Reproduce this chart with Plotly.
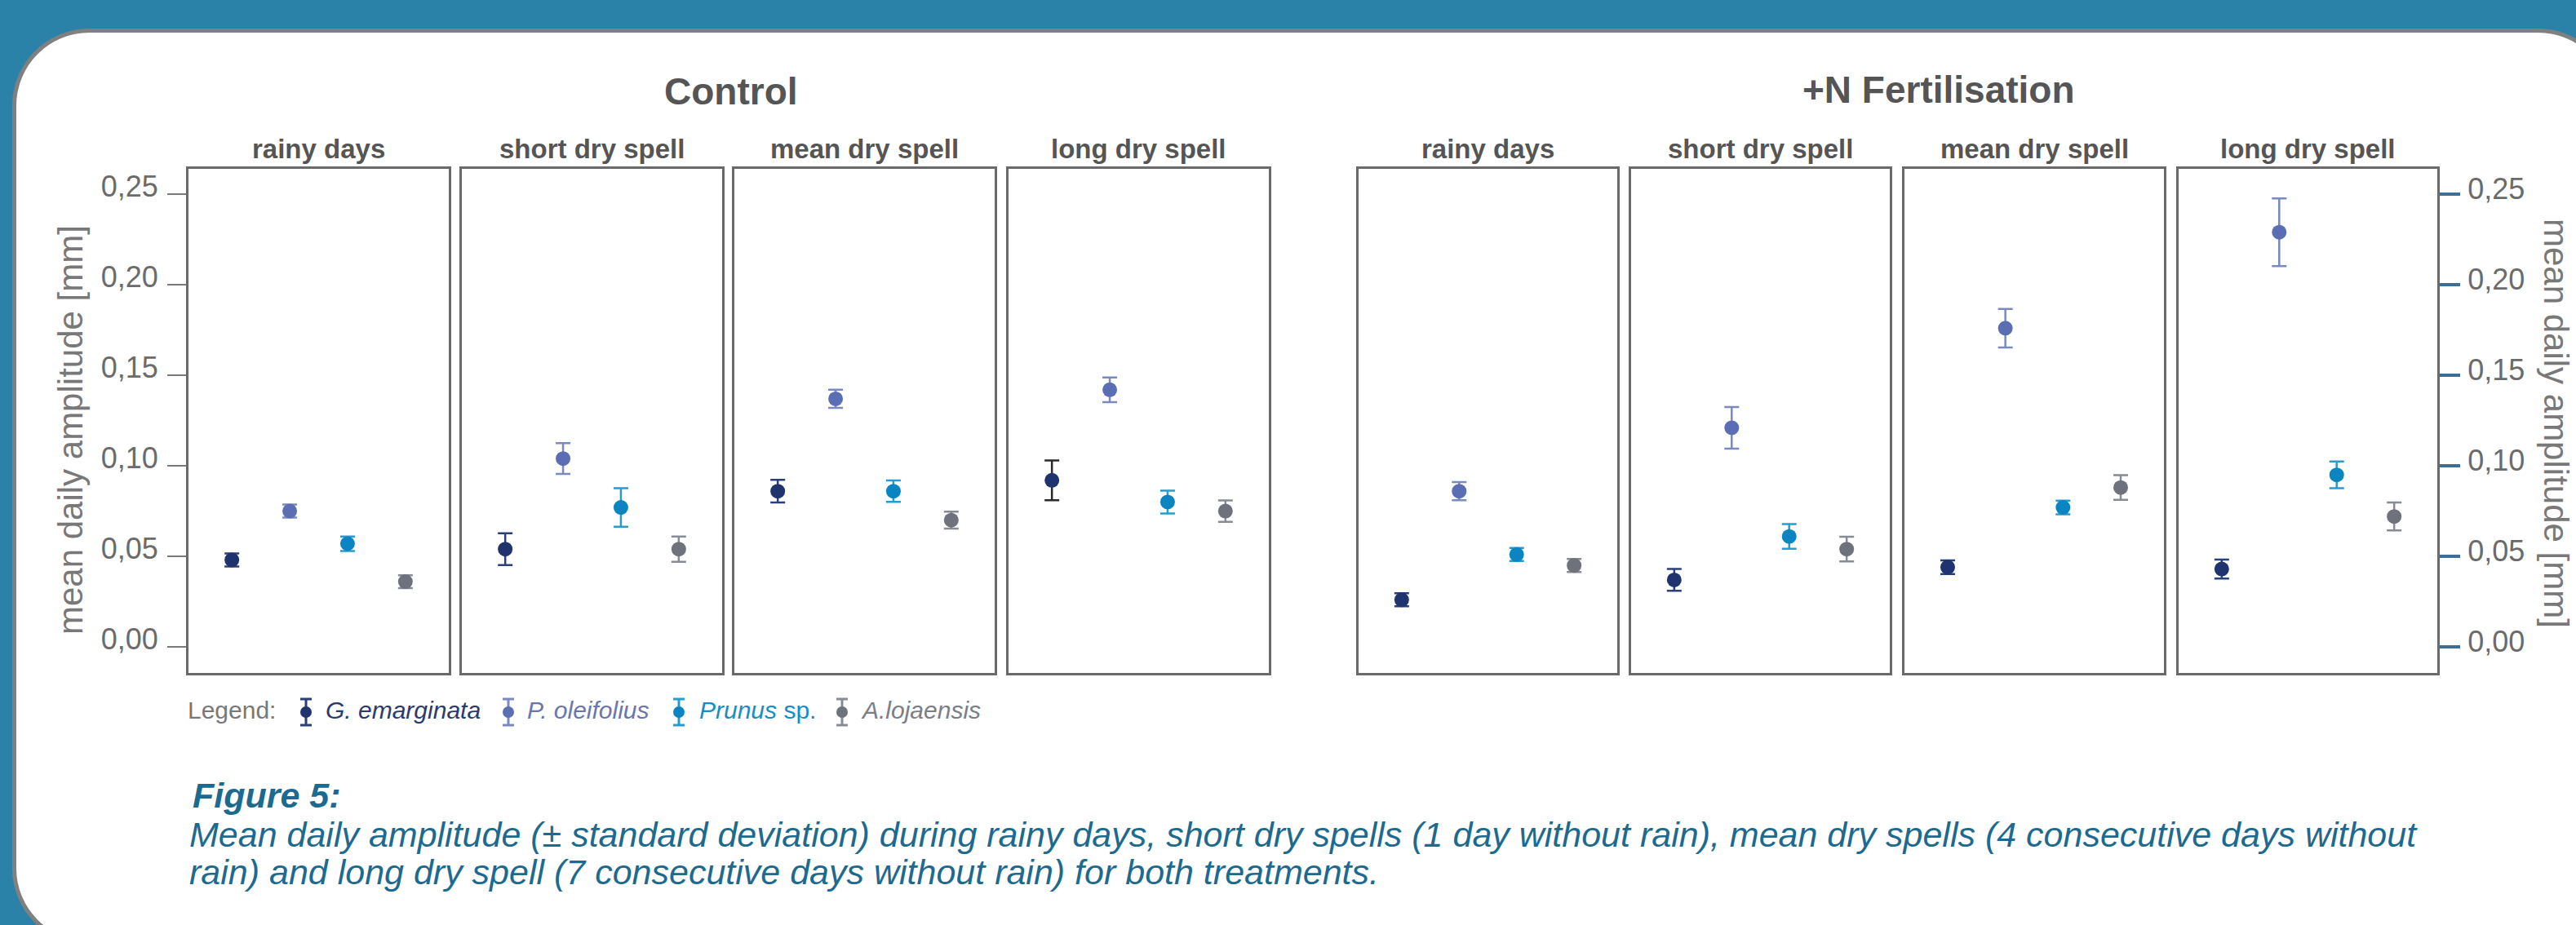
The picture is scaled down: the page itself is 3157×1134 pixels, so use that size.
import plotly.graph_objects as go

# ---------------------------------------------------------------- data
SPECIES = ["G. emarginata", "P. oleifolius", "Prunus sp.", "A.lojaensis"]
PERIODS = ["rainy days", "short dry spell", "mean dry spell", "long dry spell"]
TREATMENTS = ["Control", "+N Fertilisation"]

# rows: species (order of SPECIES), columns: periods (order of PERIODS)
CONTROL_MEAN = [
    [0.048, 0.054, 0.086, 0.092],
    [0.075, 0.104, 0.137, 0.142],
    [0.057, 0.077, 0.086, 0.080],
    [0.036, 0.054, 0.070, 0.075],
]
CONTROL_SD = [
    [0.0036, 0.0088, 0.0063, 0.0110],
    [0.0036, 0.0085, 0.0050, 0.0068],
    [0.0040, 0.0106, 0.0059, 0.0063],
    [0.0036, 0.0070, 0.0047, 0.0059],
]
FERT_MEAN = [
    [0.026, 0.037, 0.044, 0.043],
    [0.086, 0.121, 0.176, 0.229],
    [0.051, 0.061, 0.077, 0.095],
    [0.045, 0.054, 0.088, 0.072],
]
FERT_SD = [
    [0.0036, 0.0060, 0.0038, 0.0052],
    [0.0050, 0.0115, 0.0106, 0.0187],
    [0.0036, 0.0068, 0.0038, 0.0074],
    [0.0036, 0.0068, 0.0068, 0.0077],
]

TICK_VALUES = [0.00, 0.05, 0.10, 0.15, 0.20, 0.25]
TICK_LABELS = ["0,00", "0,05", "0,10", "0,15", "0,20", "0,25"]

Y_TITLE = "mean daily amplitude [mm]"
FIG_LABEL = "Figure 5:"
CAPTION_LINES = [
    "Mean daily amplitude (± standard deviation) during rainy days, short dry spells "
    "(1 day without rain), mean dry spells (4 consecutive days without",
    "rain) and long dry spell (7 consecutive days without rain) for both treatments.",
]
LEGEND_LABELS = ["<i>G. emarginata</i>", "<i>P. oleifolius</i>", "<i>Prunus</i> sp.", "<i>A.lojaensis</i>"]

# ---------------------------------------------------------------- styling
W, H = 3157, 1134
FONT = "Liberation Sans, Arial, Helvetica, sans-serif"
BG_BLUE = "#2a82a8"
CARD_EDGE = "#808080"
BOX_LINE = "#6a6a6a"
TEXT_GREY = "#555555"
LIGHT_GREY = "#787878"
CAPTION_BLUE = "#1d6a90"

MARKER_COLORS = ["#1f346f", "#5b6eb3", "#0a85c2", "#6d727c"]
ERROR_COLORS = ["#2b3f7a", "#7b89c2", "#2a9bd0", "#868b94"]
LEGEND_TEXT_COLORS = ["#2b3a6e", "#6a76b0", "#1a8cc4", "#7a7e86"]
# one error bar in the control / long dry spell panel is printed in black
ERROR_OVERRIDE = {(0, 3, 0): "#2a2a2a"}

# panel geometry in page pixels
PANEL_SPANS = [
    [(231, 550), (566, 885), (900, 1219), (1236, 1555)],
    [(1665, 1982), (1999, 2316), (2334, 2652), (2670, 2987)],
]
PANEL_TOP, PANEL_BOTTOM = 207, 825
Y_RANGE = [-0.0144, 0.264]


def fx(px):
    return px / W


def fy(py):
    return 1 - py / H


fig = go.Figure()
layout = dict(
    width=W, height=H, margin=dict(l=0, r=0, t=0, b=0),
    paper_bgcolor=BG_BLUE, plot_bgcolor="rgba(0,0,0,0)",
    showlegend=False, font=dict(family=FONT),
)
annotations = []

means = [CONTROL_MEAN, FERT_MEAN]
sds = [CONTROL_SD, FERT_SD]

idx = 0
for t, treatment in enumerate(TREATMENTS):
    for p, period in enumerate(PERIODS):
        idx += 1
        xa = "x" if idx == 1 else f"x{idx}"
        ya = "y" if idx == 1 else f"y{idx}"
        x0, x1 = PANEL_SPANS[t][p]
        for s, sp in enumerate(SPECIES):
            fig.add_trace(go.Scatter(
                x=[sp], y=[means[t][s][p]],
                mode="markers",
                marker=dict(size=18, color=MARKER_COLORS[s], line=dict(width=0)),
                error_y=dict(type="data", array=[sds[t][s][p]], visible=True,
                             color=ERROR_OVERRIDE.get((t, p, s), ERROR_COLORS[s]),
                             thickness=2.5, width=9),
                xaxis=xa, yaxis=ya, name=sp, hoverinfo="skip",
            ))
        xkey = "xaxis" if idx == 1 else f"xaxis{idx}"
        ykey = "yaxis" if idx == 1 else f"yaxis{idx}"
        layout[xkey] = dict(
            domain=[fx(x0), fx(x1)], anchor=ya, type="category",
            categoryorder="array", categoryarray=SPECIES, range=[-0.75, 3.75],
            showline=True, mirror=True, linecolor=BOX_LINE, linewidth=3,
            showgrid=False, zeroline=False, showticklabels=False, ticks="",
        )
        yax = dict(
            domain=[fy(PANEL_BOTTOM), fy(PANEL_TOP)], anchor=xa, range=Y_RANGE,
            showline=True, mirror=True, linecolor=BOX_LINE, linewidth=3,
            showgrid=False, zeroline=False, showticklabels=False, ticks="",
        )
        if idx == 1:
            yax.update(ticks="outside", ticklen=23, tickwidth=2, tickcolor="#7a7a7a",
                       tickvals=TICK_VALUES, ticktext=TICK_LABELS, showticklabels=True,
                       tickfont=dict(size=36, color="#6b6b6b"),
                       ticklabelshift=-10, ticklabelstandoff=4)
        if idx == 8:
            yax.update(side="right", ticks="outside", ticklen=25, tickwidth=4,
                       tickcolor="#3d6e96", tickvals=TICK_VALUES, ticktext=TICK_LABELS,
                       showticklabels=True, tickfont=dict(size=36, color="#6b6b6b"),
                       ticklabelshift=-7, ticklabelstandoff=2)
        layout[ykey] = yax
        # panel heading
        annotations.append(dict(
            text=f"<b>{period}</b>", x=fx((x0 + x1) / 2), y=fy(182),
            xref="paper", yref="paper", xanchor="center", yanchor="middle",
            showarrow=False, font=dict(size=33, color=TEXT_GREY),
        ))

# treatment headings
annotations.append(dict(text="<b>Control</b>", x=fx(896), y=fy(112), xref="paper", yref="paper",
                        showarrow=False, xanchor="center", yanchor="middle",
                        font=dict(size=46, color=TEXT_GREY)))
annotations.append(dict(text="<b>+N Fertilisation</b>", x=fx(2376), y=fy(110), xref="paper",
                        yref="paper", showarrow=False, xanchor="center", yanchor="middle",
                        font=dict(size=46, color=TEXT_GREY)))

# axis titles
annotations.append(dict(text=Y_TITLE, x=fx(86), y=fy(527), xref="paper", yref="paper",
                        showarrow=False, textangle=-90, xanchor="center", yanchor="middle",
                        font=dict(size=42, color=LIGHT_GREY)))
annotations.append(dict(text=Y_TITLE, x=fx(3133), y=fy(519), xref="paper", yref="paper",
                        showarrow=False, textangle=90, xanchor="center", yanchor="middle",
                        font=dict(size=42, color=LIGHT_GREY)))

# legend row
LEGEND_Y = 870
LEGEND_SYMBOL_X = [375, 623, 832, 1032]
LEGEND_TEXT_X = [397, 644, 855, 1053]
annotations.append(dict(text="Legend:", x=fx(228), y=fy(LEGEND_Y), xref="paper", yref="paper",
                        showarrow=False, xanchor="left", yanchor="middle",
                        font=dict(size=30, color=LIGHT_GREY)))
for s in range(len(SPECIES)):
    annotations.append(dict(text=LEGEND_LABELS[s], x=fx(LEGEND_TEXT_X[s]), y=fy(LEGEND_Y),
                            xref="paper", yref="paper", showarrow=False, xanchor="left",
                            yanchor="middle", font=dict(size=30, color=LEGEND_TEXT_COLORS[s])))
    fig.add_trace(go.Scatter(
        x=[LEGEND_SYMBOL_X[s]], y=[LEGEND_Y + 3], mode="markers",
        marker=dict(size=14, color=MARKER_COLORS[s]),
        error_y=dict(type="constant", value=16, color=ERROR_COLORS[s], thickness=3, width=7),
        xaxis="x9", yaxis="y9", hoverinfo="skip",
    ))
layout["xaxis9"] = dict(domain=[0, 1], range=[0, W], visible=False, anchor="y9")
layout["yaxis9"] = dict(domain=[0, 1], range=[H, 0], visible=False, anchor="x9")

# caption
annotations.append(dict(text=f"<b><i>{FIG_LABEL}</i></b>", x=fx(234), y=fy(975), xref="paper",
                        yref="paper", showarrow=False, xanchor="left", yanchor="middle",
                        font=dict(size=43, color=CAPTION_BLUE)))
for i, line in enumerate(CAPTION_LINES):
    annotations.append(dict(text=f"<i>{line}</i>", x=fx(230), y=fy(1023 + 46 * i), xref="paper",
                            yref="paper", showarrow=False, xanchor="left", yanchor="middle",
                            font=dict(size=43, color=CAPTION_BLUE)))

layout["annotations"] = annotations

# white rounded card with grey rim on the blue page
L, T, R, B, r = 17.5, 37.5, 3202.5, 1156.5, 92
k = 0.5523 * r


def pt(x, y):
    return f"{fx(x):.6f},{fy(y):.6f}"


card_path = (
    f"M {pt(L + r, T)} L {pt(R - r, T)} "
    f"C {pt(R - r + k, T)} {pt(R, T + r - k)} {pt(R, T + r)} "
    f"L {pt(R, B - r)} "
    f"C {pt(R, B - r + k)} {pt(R - r + k, B)} {pt(R - r, B)} "
    f"L {pt(L + r, B)} "
    f"C {pt(L + r - k, B)} {pt(L, B - r + k)} {pt(L, B - r)} "
    f"L {pt(L, T + r)} "
    f"C {pt(L, T + r - k)} {pt(L + r - k, T)} {pt(L + r, T)} Z"
)
layout["shapes"] = [dict(type="path", path=card_path, xref="paper", yref="paper",
                         fillcolor="white", line=dict(color=CARD_EDGE, width=5), layer="below")]

fig.update_layout(**layout)
fig.write_html("out.html")
